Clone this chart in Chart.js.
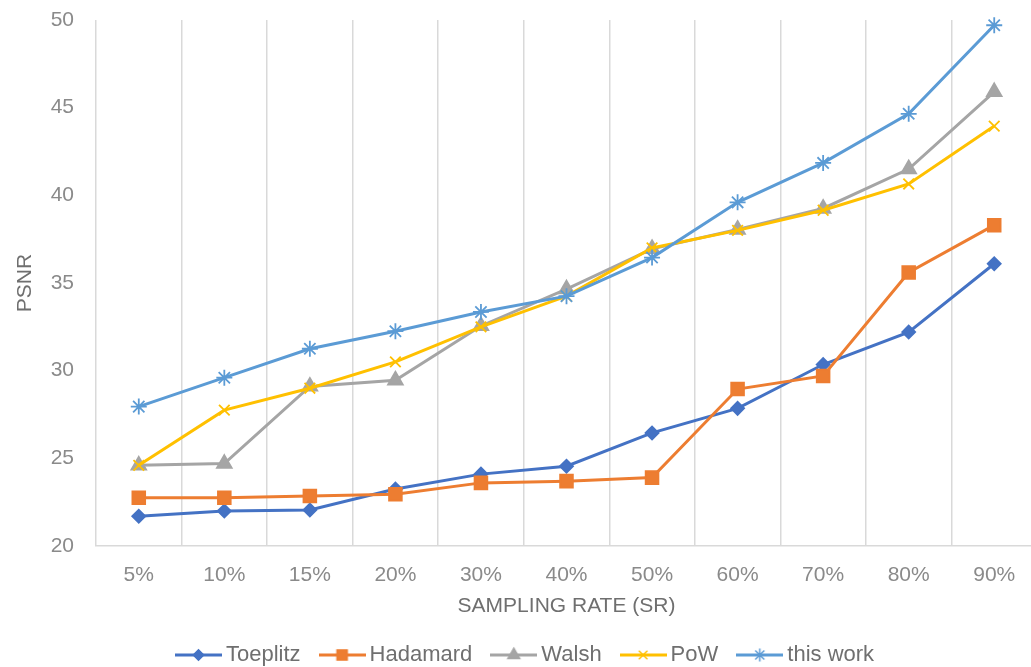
<!DOCTYPE html>
<html>
<head>
<meta charset="utf-8">
<script src="https://cdn.jsdelivr.net/npm/chart.js@4.4.1/dist/chart.umd.min.js"></script>
<style>
  html, body { margin: 0; padding: 0; overflow: hidden; background: #ffffff; }
  #wrap { width: 1040px; height: 676px; }
</style>
</head>
<body>
<div id="wrap"><canvas id="c" width="1040" height="676"></canvas></div>
<script>
// Sampling rates on the x axis
const categories = ['5%', '10%', '15%', '20%', '30%', '40%', '50%', '60%', '70%', '80%', '90%'];

// PSNR per sampling rate for each measurement matrix
const toeplitz = [21.7, 22.0, 22.05, 23.25, 24.1, 24.55, 26.45, 27.85, 30.35, 32.2, 36.1];
const hadamard = [22.75, 22.75, 22.85, 22.95, 23.6, 23.7, 23.9, 28.95, 29.7, 35.6, 38.3];
const walsh    = [24.6, 24.7, 29.1, 29.45, 32.55, 34.65, 36.95, 38.05, 39.25, 41.5, 45.9];
const pow      = [24.6, 27.75, 29.0, 30.5, 32.5, 34.25, 37.0, 38.0, 39.15, 40.65, 43.95];
const thisWork = [27.95, 29.6, 31.25, 32.25, 33.35, 34.25, 36.45, 39.6, 41.85, 44.65, 49.7];

const seriesNames = ['Toeplitz', 'Hadamard', 'Walsh', 'PoW', 'this work'];
const seriesData = [toeplitz, hadamard, walsh, pow, thisWork];

// Y axis range
const yMin = 20, yMax = 50, yStep = 5;

const colors  = ['#4472C4', '#ED7D31', '#A5A5A5', '#FFC000', '#5B9BD5'];
const markers = ['rectRot', 'rect', 'triangle', 'crossRot', 'star'];
const radii   = [6.5, 9, 8.5, 7.5, 8];

const FONT = "'Liberation Sans', Arial, sans-serif";

// Legend icons: a short line with the series marker in the middle
function makeIcon(color, style, radius) {
  const cv = document.createElement('canvas');
  cv.width = 47; cv.height = 22;
  const ctx = cv.getContext('2d');
  ctx.strokeStyle = color;
  ctx.lineWidth = 3;
  ctx.beginPath();
  ctx.moveTo(0, 11); ctx.lineTo(47, 11);
  ctx.stroke();
  ctx.fillStyle = color;
  ctx.strokeStyle = color;
  ctx.lineWidth = 1.5;
  Chart.helpers.drawPoint(ctx, { pointStyle: style, radius: radius, borderWidth: 1.5, rotation: 0 }, 23.5, 11);
  return cv;
}
const legendIcons = seriesNames.map((_, i) => makeIcon(colors[i], markers[i], radii[i] * 0.8));

const datasets = seriesNames.map((name, i) => ({
  label: name,
  data: seriesData[i],
  borderColor: colors[i],
  backgroundColor: colors[i],
  borderWidth: 3,
  pointStyle: markers[i],
  pointRadius: radii[i],
  pointBorderWidth: 1.8,
  pointBackgroundColor: colors[i],
  pointBorderColor: colors[i],
  tension: 0,
  fill: false,
  clip: false,
  order: -i
}));

// Places the legend row at a fixed left position
const legendPlacement = {
  id: 'legendPlacement',
  afterLayout(chart) {
    const lg = chart.legend;
    if (!lg) return;
    const w = lg.right - lg.left;
    lg.left = 157;
    lg.right = 157 + w;
  }
};

new Chart(document.getElementById('c'), {
  type: 'line',
  data: { labels: categories, datasets: datasets },
  plugins: [legendPlacement],
  options: {
    responsive: false,
    animation: false,
    devicePixelRatio: 1,
    layout: { autoPadding: false, padding: { top: 20, right: 3, bottom: 0, left: 0 } },
    plugins: {
      tooltip: { enabled: false },
      legend: {
        position: 'bottom',
        align: 'start',
        labels: {
          usePointStyle: true,
          pointStyleWidth: 33,
          padding: 25,
          color: '#6f6f6f',
          font: { family: FONT, size: 22 },
          sort: (a, b) => a.datasetIndex - b.datasetIndex,
          generateLabels(chart) {
            const items = Chart.defaults.plugins.legend.labels.generateLabels(chart);
            items.forEach(it => { it.pointStyle = legendIcons[it.datasetIndex]; });
            return items;
          }
        }
      }
    },
    scales: {
      x: {
        offset: true,
        grid: { display: true, offset: true, color: '#d9d9d9', lineWidth: 1.5, drawTicks: false },
        border: { display: true, color: '#d9d9d9', width: 1.5 },
        ticks: { color: '#8a8a8a', font: { family: FONT, size: 21 }, padding: 17, maxRotation: 0, autoSkip: false },
        title: {
          display: true,
          text: 'SAMPLING RATE (SR)',
          color: '#6f6f6f',
          font: { family: FONT, size: 21 },
          padding: { top: 4, bottom: 0 }
        },
        afterFit(scale) { scale.height = 73; }
      },
      y: {
        min: yMin,
        max: yMax,
        grid: { display: false, drawTicks: false },
        border: { display: false },
        ticks: { stepSize: yStep, color: '#8a8a8a', font: { family: FONT, size: 21 }, padding: 22 },
        title: {
          display: true,
          text: 'PSNR',
          color: '#6f6f6f',
          font: { family: FONT, size: 21 },
          padding: { top: 13, bottom: 0 }
        },
        afterFit(scale) {
          scale.width = 96;
          scale.paddingTop = 0;
          scale.paddingBottom = 0;
        }
      }
    }
  }
});
</script>
</body>
</html>
